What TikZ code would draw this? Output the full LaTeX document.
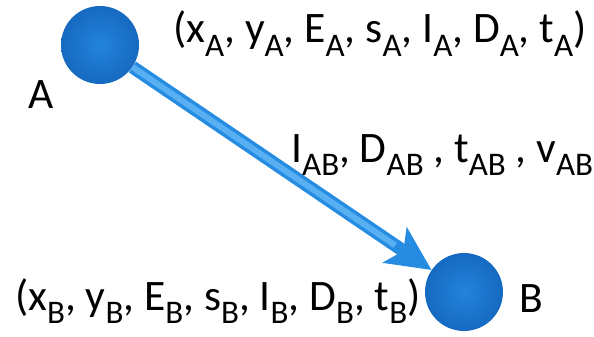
\documentclass[tikz,border=0pt]{standalone}
\usepackage{fontspec}
\setmainfont{Carlito}
\usetikzlibrary{arrows.meta}

\definecolor{ballblue}{RGB}{35,132,220}
\definecolor{balldark}{RGB}{22,105,192}
\definecolor{arrowblue}{RGB}{38,140,225}
\definecolor{arrowlight}{RGB}{88,176,242}

\newcommand{\sbs}[1]{\raisebox{-0.3em}{\fontsize{33}{33}\selectfont #1}}

\tikzset{
	ballnode/.style={circle, minimum size=78pt, inner sep=0pt,
		inner color=ballblue, outer color=balldark, shading=radial},
	attrtext/.style={inner sep=0pt, anchor=base west, font=\fontsize{43.5}{48}\selectfont},
	edgearrow/.style={line width=13pt, draw=arrowblue,
		-{Stealth[length=44pt, width=42pt, inset=10pt]},
		postaction={draw=arrowlight, line width=6pt, arrows=-, shorten >=44pt}}
}

\begin{document}
\begin{tikzpicture}[x=1pt, y=-1pt]
		
		\useasboundingbox (0,0) rectangle (594,337);
		
		% Nodes
		\node[ballnode] (A) at (100,45) {};
		\node[ballnode] (B) at (464,292) {};
		
		% Edge from A to B
		\draw[edgearrow] (A) -- (B);
		
		% Labels
		\node[attrtext] (labA) at (28,108) {A};
		\node[attrtext] (labB) at (519,312) {B};
		
		\node[attrtext] (attrA) at (173,43)
		{(x\sbs{A}, y\sbs{A}, E\sbs{A}, s\sbs{A}, I\sbs{A}, D\sbs{A}, t\sbs{A})};
		\node[attrtext] (attrAB) at (291,162)
		{I\sbs{AB}, D\sbs{AB} , t\sbs{AB} , v\sbs{AB}};
		\node[attrtext] (attrB) at (15,310)
		{(x\sbs{B}, y\sbs{B}, E\sbs{B}, s\sbs{B}, I\sbs{B}, D\sbs{B}, t\sbs{B})};
		
	\end{tikzpicture}
\end{document}
